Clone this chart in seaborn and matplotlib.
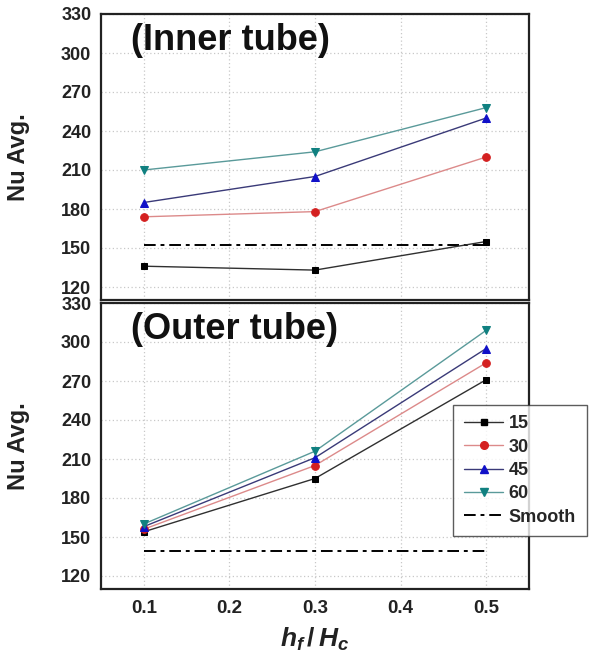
import numpy as np
import pandas as pd
import matplotlib
matplotlib.use("Agg")
import matplotlib.pyplot as plt
from matplotlib.lines import Line2D
import seaborn as sns

# Fin height ratio and average Nusselt numbers for each fin angle
hf = [0.1, 0.3, 0.5]
angles = ["15", "30", "45", "60"]
inner_nu = {
    "15": [136, 133, 155],
    "30": [174, 178, 220],
    "45": [185, 205, 250],
    "60": [210, 224, 258],
}
outer_nu = {
    "15": [154, 195, 271],
    "30": [156, 205, 284],
    "45": [158, 211, 295],
    "60": [160, 216, 309],
}
inner_smooth = [152, 152, 152]
outer_smooth = [139, 139, 139]
panel_titles = ["(Inner tube)", "(Outer tube)"]
y_ticks = [120, 150, 180, 210, 240, 270, 300, 330]
x_ticks = [0.1, 0.2, 0.3, 0.4, 0.5]

sns.set_style("white")
plt.rcParams["font.family"] = ["Liberation Sans", "DejaVu Sans"]
plt.rcParams["font.weight"] = "bold"
plt.rcParams["mathtext.fontset"] = "custom"
plt.rcParams["mathtext.it"] = "Liberation Sans:italic:bold"
plt.rcParams["mathtext.rm"] = "Liberation Sans:bold"

marker_colors = ["#000000", "#d42020", "#1010c8", "#108080"]
line_colors = ["#303030", "#dc8a8a", "#3a3a78", "#5a9a9a"]
markers = ["s", "o", "^", "v"]
marker_sizes = [4.5, 5.5, 6, 6]
smooth_dash = (0, (6, 2.5, 2, 2.5))

fig = plt.figure(figsize=(5.93, 6.65), dpi=100)
ax_top = fig.add_axes([101 / 593, 1 - 300 / 665, 428 / 593, 286 / 665])
ax_bot = fig.add_axes([101 / 593, 1 - 589 / 665, 428 / 593, 286 / 665])

for ax, data, smooth, title in zip([ax_top, ax_bot], [inner_nu, outer_nu],
                                   [inner_smooth, outer_smooth], panel_titles):
    df = pd.DataFrame(
        [(x, data[a][i], a) for a in angles for i, x in enumerate(hf)],
        columns=["hf", "Nu", "angle"],
    )
    for a, mc, lc, mk, ms in zip(angles, marker_colors, line_colors, markers, marker_sizes):
        sub = df[df["angle"] == a]
        sns.lineplot(data=sub, x="hf", y="Nu", ax=ax, color=lc, linewidth=1.0,
                     marker=mk, markersize=ms, markerfacecolor=mc,
                     markeredgecolor=mc, legend=False, zorder=3)
    sns.lineplot(x=hf, y=smooth, ax=ax, color="black", linewidth=1.4,
                 linestyle=smooth_dash, legend=False, zorder=2)

    ax.set_xlim(0.05, 0.55)
    ax.set_ylim(110, 330)
    ax.set_xticks(x_ticks)
    ax.set_yticks(y_ticks)
    ax.grid(True, linestyle=(0, (1, 2)), color="#c8c8c8", linewidth=0.9)
    ax.set_axisbelow(True)
    for sp in ax.spines.values():
        sp.set_color("#222222")
        sp.set_linewidth(1.6)
    ax.tick_params(axis="y", direction="out", length=5, width=1.2,
                   labelsize=13, pad=2, colors="#222222")
    ax.tick_params(axis="x", direction="in", length=5, width=1.2,
                   labelsize=13.5, pad=8, colors="#222222")
    ax.set_ylabel("Nu Avg.", fontsize=17, fontweight="bold", color="#222222")
    ax.yaxis.set_label_coords(-0.165, 0.5)
    ax.set_xlabel("")
    ax.text(0.07, 0.968, title, transform=ax.transAxes, fontsize=26,
            fontweight="bold", va="top", ha="left", color="#111111")

ax_top.tick_params(axis="x", labelbottom=False)
ax_bot.set_xlabel(r"$h_f\,/\,H_c$", fontsize=19, color="#222222", labelpad=6)

handles = [
    Line2D([], [], color=lc, marker=mk, markerfacecolor=mc, markeredgecolor=mc,
           markersize=ms, linewidth=1.0)
    for mc, lc, mk, ms in zip(marker_colors, line_colors, markers, marker_sizes)
]
handles.append(Line2D([], [], color="black", linewidth=1.4, linestyle=smooth_dash))
leg = ax_bot.legend(handles, angles + ["Smooth"], loc="upper left",
                    bbox_to_anchor=(0.822, 0.645), frameon=True, fancybox=False,
                    edgecolor="#333333", prop={"weight": "bold", "size": 13},
                    handlelength=2.2, handletextpad=0.3, labelspacing=0.35,
                    borderpad=0.6, borderaxespad=0)
leg.get_frame().set_linewidth(1.0)
leg.set_zorder(5)

fig.savefig("out.png", dpi=100, facecolor="white")
